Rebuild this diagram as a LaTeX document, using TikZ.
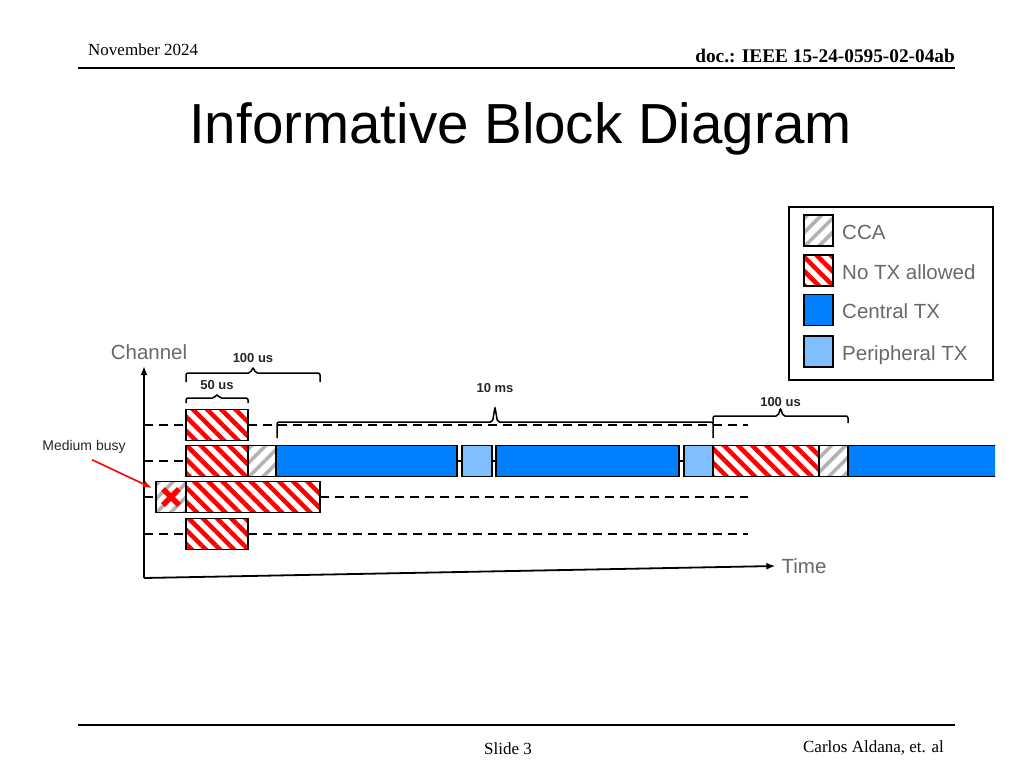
\documentclass[tikz,border=0pt]{standalone}
\usepackage{fontspec}
\setmainfont{Liberation Serif}
\newfontfamily\arialfont{Liberation Sans}
\usetikzlibrary{patterns.meta,arrows.meta,calc}
\definecolor{centralblue}{RGB}{0,128,255}
\definecolor{periphblue}{RGB}{128,191,255}
\definecolor{labelgray}{RGB}{105,105,105}

\tikzset{
  box/.style={draw=black, line width=1.6pt, inner sep=0pt, outer sep=0pt, minimum height=31pt, anchor=west},
  notx/.style={box, pattern={Lines[angle=-45,distance=10pt,line width=4.5pt]}, pattern color=red},
  cca/.style={box, pattern={Lines[angle=45,distance=10pt,line width=3.6pt]}, pattern color=black!30},
  ctx/.style={box, fill=centralblue},
  ptx/.style={box, fill=periphblue},
  chan/.style={line width=1.5pt, dash pattern=on 9pt off 6pt},
  spanbrace/.style 2 args={line width=1.5pt, rounded corners=2pt,
    to path={-- ++(0,-#1) -- ($(\tikztostart)!.5!(\tikztotarget)+(-2.5,-#1)$)
      -- ($(\tikztostart)!.5!(\tikztotarget)+(0,-#1-#2)$)
      -- ($(\tikztostart)!.5!(\tikztotarget)+(2.5,-#1)$)
      -- ($(\tikztotarget)+(0,-#1)$) -- (\tikztotarget)}},
  small/.style={font=\arialfont\fontsize{14}{15}\selectfont, text=black!85, inner sep=1pt},
  spanlab/.style={font=\arialfont\bfseries\fontsize{13}{14}\selectfont, text=black!85, inner sep=1pt, anchor=base},
  big/.style={font=\arialfont\fontsize{20.5}{22}\selectfont, text=labelgray, inner sep=1pt},
  slidetext/.style={font=\fontsize{17}{18}\selectfont, inner sep=0pt},
  axis/.style={line width=1.8pt, -{Latex[length=9pt,width=7pt]}},
}

\begin{document}
\begin{tikzpicture}[x=1pt,y=-1pt]
\useasboundingbox (0,0) rectangle (1024,768);
\fill[white] (0,0) rectangle (1024,768);

% slide frame
\node[slidetext, anchor=base west] (date) at (88,56) {November 2024};
\node[slidetext, anchor=base east, font=\bfseries\fontsize{19.3}{20}\selectfont] (doc) at (955,63) {doc.: IEEE 15-24-0595-02-04ab};
\draw[line width=1.6pt] (78,68) -- (955,68);
\draw[line width=1.6pt] (78,725) -- (955,725);
\node[slidetext, anchor=base] (slide) at (508,754) {Slide 3};
\node[slidetext, anchor=base east] (author) at (944,752) {Carlos Aldana, et. al};
\node[font=\arialfont\fontsize{56.5}{60}\selectfont, anchor=base] (title) at (520.5,143) {Informative Block Diagram};

% legend
\node[draw, line width=1.5pt, minimum width=204pt, minimum height=173pt, anchor=north west, inner sep=0pt] (legend) at (788,206) {};
\foreach \s/\t/\y [count=\i] in {cca/CCA/230.5, notx/No TX allowed/270.5, ctx/Central TX/310, ptx/Peripheral TX/351.5}{
  \node[\s, minimum width=29pt] (key\i) at (804,\y) {};
  \node[big, anchor=base west] (lab\i) at ([xshift=8pt,yshift=-8.5pt]key\i.east) {\t};
}

% axes
\coordinate (o) at (144,578);
\coordinate (ytop) at (144,366);
\coordinate (tend) at (748,0);
\node[big] (chanlab) at (149,352) {Channel};
\node[big] (time) at (804,566) {Time};
\draw[axis] (o) -- (ytop);
\draw[axis] (o) -- ([xshift=-5pt]time.west);

% rows
\node[notx, minimum width=62pt] (a1) at (186,425) {};

\node[notx, minimum width=62pt] (b1) at (186,461) {};
\node[cca, minimum width=28pt] (b2) at (b1.east) {};
\node[ctx, minimum width=181pt] (b3) at (b2.east) {};
\node[ptx, minimum width=30pt] (b4) at (462,461) {};
\node[ctx, minimum width=183pt] (b5) at (496,461) {};
\node[ptx, minimum width=29pt] (b6) at (684,461) {};
\node[notx, minimum width=106pt] (b7) at (b6.east) {};
\node[cca, minimum width=29pt] (b8) at (b7.east) {};
\begin{scope}
  \clip (0,0) rectangle (995,768);
  \node[ctx, minimum width=160pt] (b9) at (b8.east) {};
\end{scope}
\draw[line width=1.6pt] (b3.east) -- (b4.west);
\draw[line width=1.6pt] (b4.east) -- (b5.west);
\draw[line width=1.6pt] (b5.east) -- (b6.west);

\node[cca, minimum width=30pt] (c0) at (156,497) {};
\node[notx, minimum width=134pt] (c1) at (c0.east) {};
\draw[red, line width=5.5pt] ([shift={(-8,-8)}]c0.center) -- ([shift={(8,8)}]c0.center);
\draw[red, line width=5.5pt] ([shift={(-8,8)}]c0.center) -- ([shift={(8,-8)}]c0.center);

\node[notx, minimum width=62pt] (d1) at (186,534) {};

\foreach \n/\y in {a1/425, b1/461, c0/497, d1/534}
  \draw[chan] (144,\y) -- (\n.west);
\foreach \n in {a1, c1, d1}
  \draw[chan] (\n.east) -- (\n.east -| tend);

% spans
\coordinate (s1) at (186,382);
\coordinate (s2) at (320,382);
\coordinate (s3) at (277,438);
\coordinate (s4) at (713,438);
\coordinate (s5) at (713,423);
\coordinate (s6) at (848,423);
\coordinate (s7) at (186,403);
\coordinate (s8) at (248,403);
\draw[spanbrace={5}{4}] (s7) to (s8);
\draw[spanbrace={9}{6}] (s1) to (s2);
\draw[spanbrace={16}{15}] (s3) to (s4);
\draw[spanbrace={7}{8}] (s5) to (s6);
\node[spanlab] (t50) at ($(s7)!.5!(s8)+(0,-14)$) {50 us};
\node[spanlab] (t100a) at ($(s1)!.5!(s2)+(0,-20)$) {100 us};
\node[spanlab] (t10) at ($(s3)!.5!(s4)+(0,-46)$) {10 ms};
\node[spanlab] (t100b) at ($(s5)!.5!(s6)+(0,-17)$) {100 us};

% medium busy
\node[small] (busy) at (84,447) {Medium busy};
\draw[red, line width=1.6pt, -{Latex[length=9pt,width=7pt]}] ([shift={(8,5)}]busy.south) -- ([shift={(-4,-9)}]c0.west);
\end{tikzpicture}
\end{document}
